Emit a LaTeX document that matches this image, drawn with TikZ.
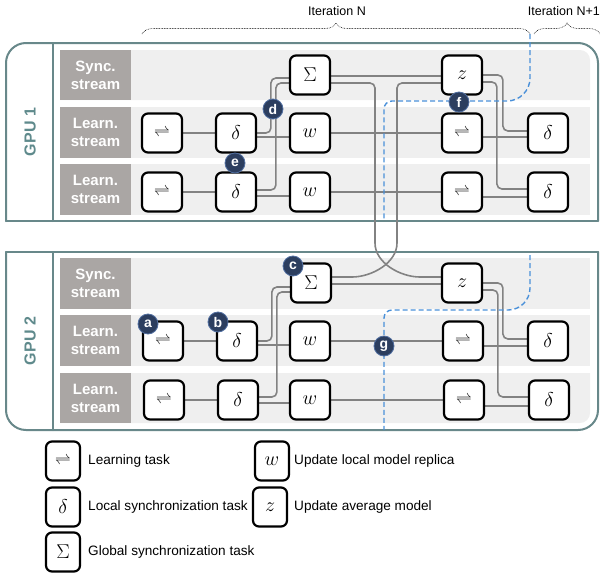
\documentclass[tikz,border=0pt]{standalone}
\usepackage{fix-cm}
\usepackage{fontspec}
\setmainfont{Liberation Sans}
\usetikzlibrary{calc,decorations.pathreplacing}
\definecolor{frame}{RGB}{104,136,138}
\definecolor{gputext}{RGB}{95,138,140}
\definecolor{rowbg}{RGB}{239,239,239}
\definecolor{lblbg}{RGB}{170,166,164}
\definecolor{conncol}{RGB}{130,130,130}
\definecolor{navy}{RGB}{44,62,95}
\definecolor{navyedge}{RGB}{80,110,160}
\definecolor{dashblue}{RGB}{74,144,217}
\newcommand{\symLR}{{\fontsize{16}{16}\selectfont$\rightleftharpoons$}}
\newcommand{\symD}{$\delta$}
\newcommand{\symW}{$w$}
\newcommand{\symZ}{$z$}
\newcommand{\symS}{$\Sigma$}
\pgfdeclarelayer{back}
\pgfdeclarelayer{mid}
\pgfsetlayers{back,mid,main}
\tikzset{
  task/.style={draw=black, line width=2.2pt, rounded corners=6, fill=white,
    minimum width=40, minimum height=39, inner sep=0,
    font=\fontsize{20}{20}\selectfont},
  legtask/.style={task, minimum width=34, minimum height=39},
  legtext/.style={anchor=west, inner sep=0, font=\fontsize{13.6}{13.6}\selectfont},
  lbl/.style={fill=lblbg, minimum width=71, minimum height=50, inner sep=0,
    text=white, align=center, font=\bfseries\fontsize{15}{18}\selectfont},
  gpulbl/.style={rotate=90, text=gputext, font=\bfseries\fontsize{16}{16}\selectfont},
  conn/.style={draw=conncol, line width=1.6, rounded corners=5},
  framel/.style={draw=frame, line width=2, line cap=round},
  bdash/.style={draw=dashblue, line width=1.4, dash pattern=on 5pt off 3pt},
  badge/.style={circle, fill=navy, draw=navyedge, line width=0.8, minimum size=20,
    inner sep=0, text=white, font=\bfseries\fontsize{14}{14}\selectfont},
  itbrace/.style={draw=black, densely dotted, line width=0.6,
    decorate, decoration={brace, amplitude=11pt}},
  itlabel/.style={font=\fontsize{12.5}{12.5}\selectfont, inner sep=0}
}
\begin{document}
\begin{tikzpicture}[x=1pt,y=-1pt]
\useasboundingbox (0,0) rectangle (600,576);

% iteration braces
\coordinate (bnA) at (142,34);
\coordinate (bnB) at (530,34);
\coordinate (bn1A) at (534,34);
\coordinate (bn1B) at (600,34);
\draw[itbrace] (bnA) -- (bnB);
\draw[itbrace] (bn1A) -- (bn1B);
\node[itlabel] (itN) at (337,11) {Iteration N};
\node[itlabel, anchor=east] (itN1) at (600,11) {Iteration N+1};

% backgrounds
\begin{pgfonlayer}{back}
\fill[rowbg] (60,100) -- (60,50) -- (580,50) to[out=0,in=90] (590,60) -- (590,100) -- cycle;
\fill[rowbg] (60,107) rectangle (590,158);
\fill[rowbg] (60,164) rectangle (590,215);
\fill[rowbg] (60,258) rectangle (590,309);
\fill[rowbg] (60,315) rectangle (590,366);
\fill[rowbg] (60,373) -- (590,373) -- (590,413) to[out=-90,in=0] (580,423) -- (60,423) -- cycle;
% frames
\draw[framel, rounded corners=20] (6,221) -- (6,43) -- (598,43) -- (598,221);
\draw[framel] (6,221) -- (598,221);
\draw[framel] (53,43) -- (53,221);
\draw[framel, rounded corners=20] (6,252) -- (6,430) -- (598,430) -- (598,252);
\draw[framel] (6,252) -- (598,252);
\draw[framel] (53,252) -- (53,430);
\end{pgfonlayer}

\node[gpulbl] (gpu1) at (30,132) {GPU 1};
\node[gpulbl] (gpu2) at (30,341) {GPU 2};

\node[lbl] (ls1) at (95.5,75) {Sync.\\stream};
\node[lbl, minimum height=51] (ll11) at (95.5,132.5) {Learn.\\stream};
\node[lbl, minimum height=51] (ll12) at (95.5,189.5) {Learn.\\stream};
\node[lbl, minimum height=51] (ls2) at (95.5,283.5) {Sync.\\stream};
\node[lbl, minimum height=51] (ll21) at (95.5,340.5) {Learn.\\stream};
\node[lbl] (ll22) at (95.5,398) {Learn.\\stream};

% GPU 1 tasks
\node[task] (S1) at (310,75) {\symS};
\node[task] (Z1) at (462,75) {\symZ};
\node[task] (a1) at (162,133) {\symLR};
\node[task] (d1) at (236,133) {\symD};
\node[task] (w1) at (310,133) {\symW};
\node[task] (l1) at (462,133) {\symLR};
\node[task] (r1) at (548,133) {\symD};
\node[task] (a2) at (162,192) {\symLR};
\node[task] (d2) at (236,192) {\symD};
\node[task] (w2) at (310,192) {\symW};
\node[task] (l2) at (462,192) {\symLR};
\node[task] (r2) at (548,192) {\symD};
% GPU 2 tasks
\node[task] (S2) at (311,283) {\symS};
\node[task] (Z2) at (462,283) {\symZ};
\node[task] (b1) at (163,341) {\symLR};
\node[task] (e1) at (237,341) {\symD};
\node[task] (v1) at (310,341) {\symW};
\node[task] (m1) at (463,341) {\symLR};
\node[task] (q1) at (548,341) {\symD};
\node[task] (b2) at (164,400) {\symLR};
\node[task] (e2) at (238,400) {\symD};
\node[task] (v2) at (310,400) {\symW};
\node[task] (m2) at (464,400) {\symLR};
\node[task] (q2) at (549,400) {\symD};

\begin{pgfonlayer}{mid}
% GPU 1 connectors
\draw[conn] (a1.east) -- (d1.west);
\draw[conn] (d1.east) -| ([xshift=-18,yshift=-3]S1.west) -- ([yshift=-3]S1.west);
\draw[conn] ([yshift=-4]d1.east) -- ([yshift=-4]w1.west);
\draw[conn] (a2.east) -- (d2.west);
\draw[conn] ([yshift=2]d2.east) -| ([xshift=-13,yshift=-8]S1.west) -- ([yshift=-8]S1.west);
\draw[conn] ([yshift=-4]d2.east) -- ([yshift=-4]w2.west);
\draw[conn] (w1.east) -- (l1.west);
\draw[conn] (w2.east) -- (l2.west);
\draw[conn] ([yshift=-4]l1.east) -- ([yshift=-4]r1.west);
\draw[conn] ([yshift=-5]l2.east) -- ([yshift=-5]r2.west);
\draw[conn] ([yshift=-1]S1.east) -- ([yshift=-1]Z1.west);
\draw[conn] (Z1.east) -| ([xshift=-24,yshift=2]r1.west) -- ([yshift=2]r1.west);
\draw[conn] ([yshift=-7]Z1.east) -| ([xshift=-30,yshift=3]r2.west) -- ([yshift=3]r2.west);
% crossing between GPUs
\draw[conn] ([yshift=-8]S1.east) -| (375,238) to[out=-90,in=180] (425,277) -- ([yshift=6]Z2.west);
\draw[conn] ([yshift=-8]Z1.west) -| (397,238) to[out=-90,in=0] (347,277) -- ([yshift=6]S2.east);
% GPU 2 connectors
\draw[conn] (b1.east) -- (e1.west);
\draw[conn] (e1.east) -| ([xshift=-18,yshift=-4]S2.west) -- ([yshift=-4]S2.west);
\draw[conn] ([yshift=-4]e1.east) -- ([yshift=-4]v1.west);
\draw[conn] (b2.east) -- (e2.west);
\draw[conn] ([yshift=3]e2.east) -| ([xshift=-13,yshift=-9]S2.west) -- ([yshift=-9]S2.west);
\draw[conn] ([yshift=-3]e2.east) -- ([yshift=-3]v2.west);
\draw[conn] (v1.east) -- (m1.west);
\draw[conn] (v2.east) -- (m2.west);
\draw[conn] ([yshift=-5]m1.east) -- ([yshift=-5]q1.west);
\draw[conn] ([yshift=-6]m2.east) -- ([yshift=-6]q2.west);
\draw[conn] ([yshift=-1]S2.east) -- ([yshift=-1]Z2.west);
\draw[conn] (Z2.east) -| ([xshift=-24,yshift=2]q1.west) -- ([yshift=2]q1.west);
\draw[conn] ([yshift=-7]Z2.east) -| ([xshift=-30,yshift=3]q2.west) -- ([yshift=3]q2.west);
% iteration boundary
\draw[bdash] (530,34) -- (530,78) to[out=-90,in=0] (507,101) -- (392,101) to[out=180,in=90] (384,109) -- (384,221);
\draw[bdash] (530,255) -- (530,288) to[out=-90,in=0] (508,310) -- (392,310) to[out=180,in=90] (384,318) -- (384,430);
\end{pgfonlayer}

% badges
\node[badge] (bd) at (273,109) {d};
\node[badge] (be) at (235,163) {e};
\node[badge] (bf) at (459,102) {f};
\node[badge] (bc) at (293,266) {c};
\node[badge] (ba) at (148,324) {a};
\node[badge] (bb) at (218,322) {b};
\node[badge] (bg) at (384,346) {g};

% legend
\node[legtask] (L1) at (63,461) {\symLR};
\node[legtext] (T1) at (88,461) {Learning task};
\node[legtask] (L2) at (63,507) {\symD};
\node[legtext] (T2) at (88,507) {Local synchronization task};
\node[legtask] (L3) at (63,552) {\symS};
\node[legtext] (T3) at (88,552) {Global synchronization task};
\node[legtask] (L4) at (272,461) {\symW};
\node[legtext] (T4) at (294,461) {Update local model replica};
\node[legtask] (L5) at (270,507) {\symZ};
\node[legtext] (T5) at (294,507) {Update average model};
\end{tikzpicture}
\end{document}
